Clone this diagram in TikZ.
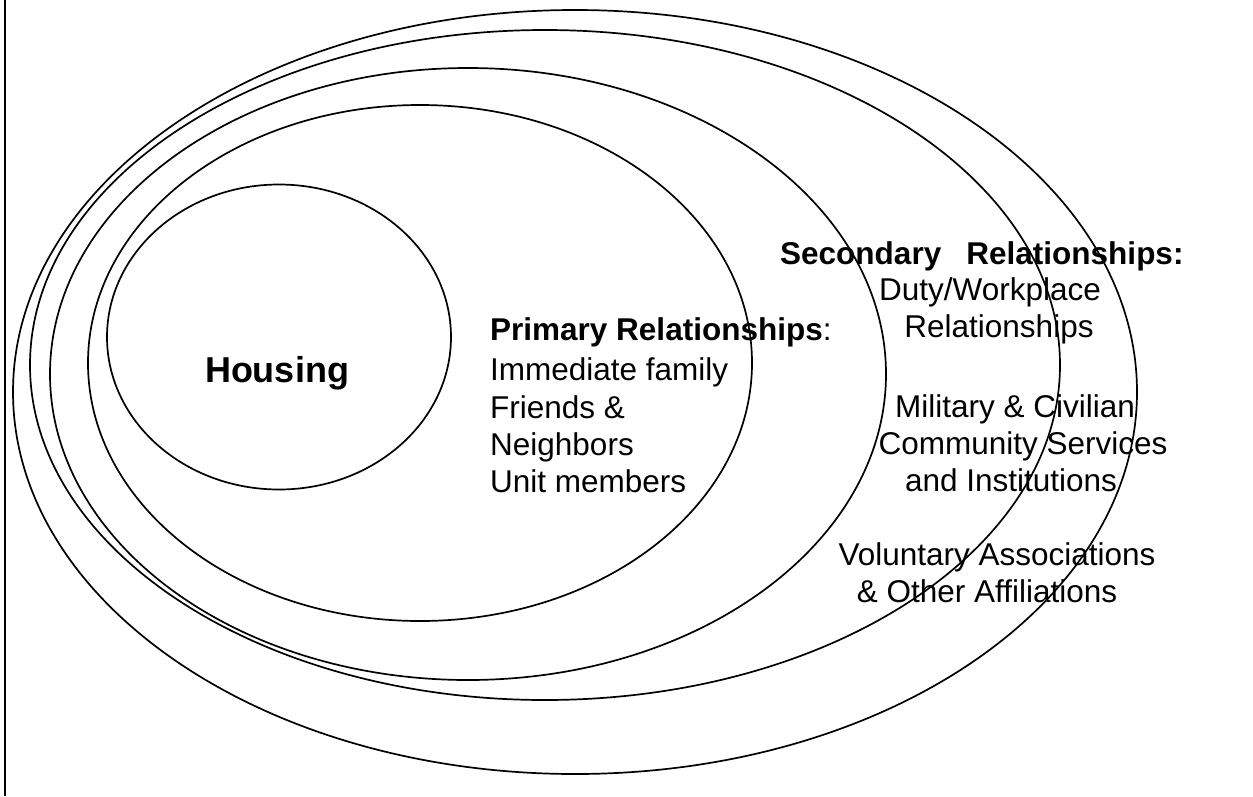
\documentclass[tikz,border=0pt]{standalone}
\usepackage{fontspec}
\setmainfont{Liberation Sans}
\usetikzlibrary{shapes.geometric}
\tikzset{
  ring/.style={draw, ellipse, line width=1.7pt, inner sep=0pt, outer sep=0pt},
  txt/.style={inner sep=0pt, anchor=base west, font=\fontsize{31.5}{37}\selectfont},
  ctxt/.style={inner sep=0pt, anchor=base, font=\fontsize{31.5}{37}\selectfont},
}
\begin{document}
\begin{tikzpicture}[x=1pt,y=-1pt]
\useasboundingbox (0,0) rectangle (1253,796);
\draw[line width=1.7pt] (5,0) coordinate (ltop) -- (5,796) coordinate (lbot);
% ellipses
\node[ring, minimum width=344pt, minimum height=305pt] (e1) at (279,337) {};
\node[ring, minimum width=664pt, minimum height=516pt] (e2) at (420,363) {};
\node[ring, minimum width=836pt, minimum height=612pt] (e3) at (468,374) {};
\node[ring, minimum width=1030pt, minimum height=670pt] (e4) at (545,365) {};
\node[ring, minimum width=1124pt, minimum height=764pt] (e5) at (575,392) {};
% texts
\node[inner sep=0pt, anchor=base, font=\fontsize{36}{43}\selectfont\bfseries] (housing) at (277,382) {Housing};
\node[txt] (p0) at (490,340) {\textbf{Primary Relationships}:};
\node[txt] (p1) at (490,380) {Immediate family};
\node[txt] (p2) at (490,418) {Friends \&};
\node[txt] (p3) at (490,455) {Neighbors};
\node[txt] (p4) at (490,492) {Unit members};
\node[txt] (s0) at (780,264) {\textbf{Secondary\hspace{0.8em}Relationships:}};
\node[ctxt] (s1) at (990,300) {Duty/Workplace};
\node[ctxt] (s2) at (999,337) {Relationships};
\node[ctxt] (s3) at (1015,417) {Military \& Civilian};
\node[ctxt] (s4) at (1023,454) {Community Services};
\node[ctxt] (s5) at (1011,491) {and Institutions};
\node[ctxt] (s6) at (997,565) {Voluntary Associations};
\node[ctxt] (s7) at (987,602) {\& Other Affiliations};
\end{tikzpicture}
\end{document}
